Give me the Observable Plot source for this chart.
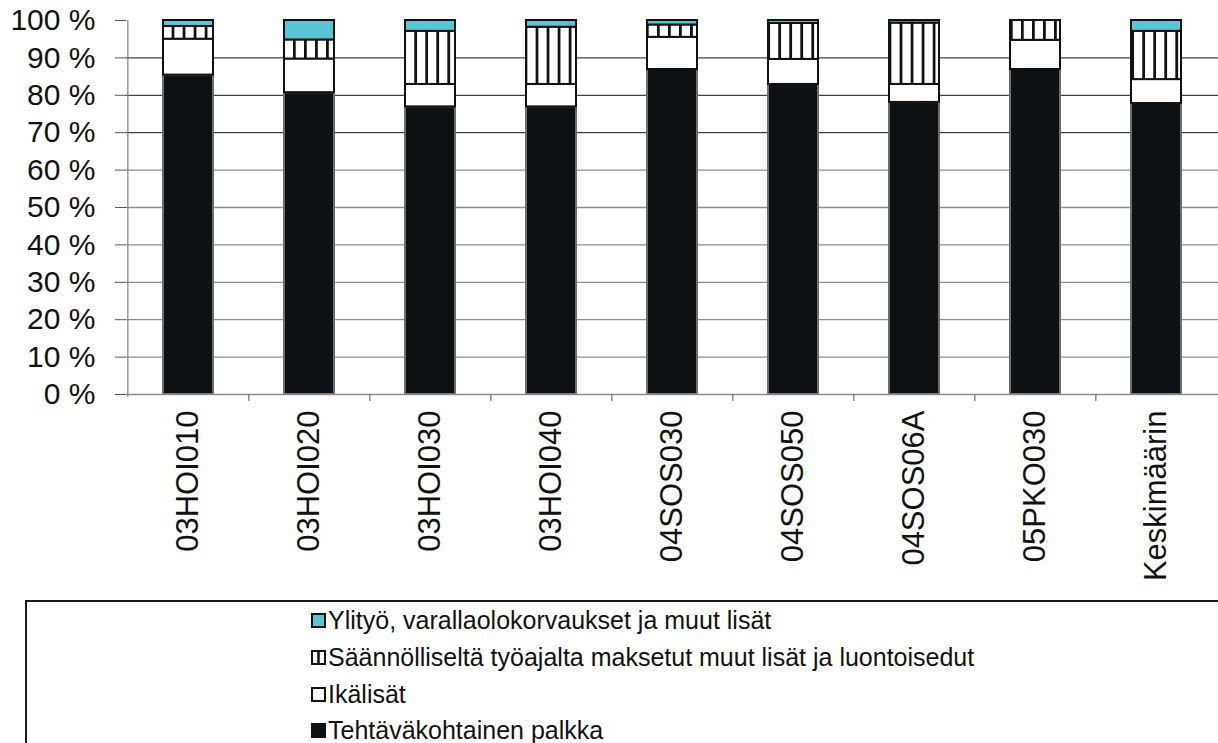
<!DOCTYPE html>
<html>
<head>
<meta charset="utf-8">
<script src="https://cdn.jsdelivr.net/npm/d3@7"></script>
<script src="https://cdn.jsdelivr.net/npm/@observablehq/plot@0.6"></script>
<style>
  html, body { margin: 0; padding: 0; background: #fff; overflow: hidden; }
  body { width: 1218px; height: 743px; position: relative; font-family: "Liberation Sans", Arial, sans-serif; }
  #chart svg { display: block; }
  #legend { position: absolute; left: 25px; top: 600px; width: 1300px; height: 200px;
            border: 2px solid #1a1a1a; box-sizing: border-box; }
  .item { position: absolute; display: flex; align-items: center; height: 30px; white-space: nowrap;
          font-size: 25px; color: #111; }
  .item svg { margin-right: 2px; flex: none; }
</style>
</head>
<body>
<div id="chart"></div>
<div id="legend"></div>
<script>
const categories = ["03HOI010","03HOI020","03HOI030","03HOI040","04SOS030","04SOS050","04SOS06A","05PKO030","Keskimäärin"];
const seriesNames = [
  "Tehtäväkohtainen palkka",
  "Ikälisät",
  "Säännölliseltä työajalta maksetut muut lisät ja luontoisedut",
  "Ylityö, varallaolokorvaukset ja muut lisät"
];
const palkka  = [85.4, 80.7, 76.9, 76.9, 86.9, 82.9, 78.1, 86.9, 77.8];
const ikalisat = [9.6, 9.0, 6.0, 6.0, 8.6, 6.7, 4.8, 7.8, 6.4];
const saannolliset = [3.4, 5.1, 14.2, 15.3, 3.3, 9.6, 16.4, 5.3, 12.9];
const ylityo = [1.6, 5.2, 2.9, 1.8, 1.2, 0.8, 0.7, 0.0, 2.9];
const yTicks = [0,10,20,30,40,50,60,70,80,90,100];

const seriesValues = [palkka, ikalisat, saannolliset, ylityo];
const seriesFills = ["#0d1113", "#ffffff", "url(#hatch)", "#58c6d5"];

const data = [];
categories.forEach((c, i) => {
  seriesNames.forEach((s, j) => data.push({cat: c, series: s, value: seriesValues[j][i]}));
});

const W = 1218, H = 600, ML = 126, MR = 0, MT = 20, MB = 206;
const step = (W - ML - MR) / categories.length;

const plot = Plot.plot({
  width: W, height: H,
  marginLeft: ML, marginRight: MR, marginTop: MT, marginBottom: MB,
  style: {fontFamily: "Liberation Sans, Arial, sans-serif", color: "#111", background: "#fff", overflow: "visible"},
  x: {domain: categories, paddingInner: 0.588, paddingOuter: 0.294, axis: null},
  y: {domain: [0, 100], axis: null},
  color: {domain: seriesNames, range: seriesFills},
  marks: [
    Plot.ruleY(yTicks.filter(d => d > 0 && d < 100), {
      y: d => d,
      stroke: d => d >= 70 ? "#111111" : "#8c8c8c",
      strokeWidth: d => d >= 70 ? 1 : 1.3
    }),
    Plot.ruleX(categories.slice(0, 1), {x: d => d, dx: -step / 2, y1: -0.8, y2: 100, stroke: "#8c8c8c", strokeWidth: 1.3}),
    Plot.axisY({
      ticks: yTicks, tickSize: 11, tickPadding: 20, label: null,
      tickFormat: d => d + " %", fontSize: 30, stroke: "#555"
    }),
    Plot.barY(data, {
      x: "cat", y: "value", fill: "series",
      stroke: d => d.series === seriesNames[0] ? "#6e6e6e" : "#111111",
      strokeWidth: 2
    }),
    Plot.ruleY([0], {stroke: "#8c8c8c", strokeWidth: 1.3}),
    Plot.ruleX(categories.slice(1), {x: d => d, dx: -step / 2, y1: 0, y2: -1.9, stroke: "#777", strokeWidth: 1.3}),
    Plot.text(categories, {
      x: d => d, y: 0, dy: 16, text: d => d, rotate: -90,
      textAnchor: "end", lineAnchor: "middle", fontSize: 31, fill: "#111"
    })
  ]
});

// hatch pattern aligned to the bars
const xs = plot.scale("x");
const firstLeft = xs.apply(categories[0]);
const pw = step / 11;
const svg = d3.select(plot);
const defs = svg.insert("defs", ":first-child");
const pat = defs.append("pattern")
  .attr("id", "hatch").attr("patternUnits", "userSpaceOnUse")
  .attr("width", pw).attr("height", 10)
  .attr("x", firstLeft + 10 - 1.4).attr("y", 0);
pat.append("rect").attr("width", pw).attr("height", 10).attr("fill", "#fff");
pat.append("rect").attr("width", 2.8).attr("height", 10).attr("fill", "#111");

document.getElementById("chart").appendChild(plot);

// legend
const legend = document.getElementById("legend");
const legendOrder = [3, 2, 1, 0];
const rowCenters = [620, 657, 694, 730];
legendOrder.forEach((j, r) => {
  const item = document.createElement("div");
  item.className = "item";
  item.style.left = (311 - 27) + "px";
  item.style.top = (rowCenters[r] - 600 - 2 - 15) + "px";
  let sw;
  if (j === 2) {
    sw = `<svg width="15" height="15"><rect x="1" y="1" width="13" height="13" fill="#fff" stroke="#111" stroke-width="2"/><line x1="7.5" y1="1" x2="7.5" y2="14" stroke="#111" stroke-width="2.5"/></svg>`;
  } else {
    sw = `<svg width="15" height="15"><rect x="1" y="1" width="13" height="13" fill="${seriesFills[j]}" stroke="#111" stroke-width="2"/></svg>`;
  }
  item.innerHTML = sw + `<span>${seriesNames[j]}</span>`;
  legend.appendChild(item);
});
</script>
</body>
</html>
